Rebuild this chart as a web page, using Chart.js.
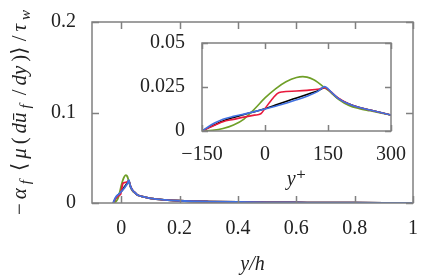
<!DOCTYPE html>
<html>
<head>
<meta charset="utf-8">
<script src="https://cdn.jsdelivr.net/npm/chart.js@4.4.1/dist/chart.umd.min.js"></script>
<style>
  html, body { margin: 0; padding: 0; background: #fff; }
  #wrap { position: relative; width: 441px; height: 280px; }
  #main { position: absolute; left: 0; top: 0; }
  #inset { position: absolute; left: 110px; top: 30px; }
</style>
</head>
<body>
<div id="wrap">
  <canvas id="main" width="441" height="280"></canvas>
  <canvas id="inset" width="300" height="175"></canvas>
</div>
<script>
// near-wall profiles (x in wall units y+)
const RE_TAU = 5500;

const blackYp = [-150, -140, -120, -100, -75, -50, -25, 0, 25, 50, 75, 100, 125, 142, 150, 160, 175, 200, 225, 250, 275, 300];
const blackVal = [0, 0.0012, 0.0035, 0.0057, 0.0077, 0.0094, 0.0110, 0.0127, 0.0147, 0.0168, 0.0188, 0.0208, 0.0228, 0.0246, 0.0236, 0.0214, 0.0184, 0.0153, 0.0133, 0.0119, 0.0105, 0.0091];

const redYp = [-150, -130, -100, -75, -50, -25, -10, 0, 15, 30, 40, 75, 100, 130, 142, 155, 175, 200, 225, 250, 275, 300];
const redVal = [0, 0.0022, 0.0053, 0.0066, 0.0079, 0.0090, 0.0098, 0.0128, 0.0175, 0.0214, 0.0222, 0.0227, 0.0231, 0.0239, 0.0246, 0.0226, 0.0186, 0.0153, 0.0133, 0.0119, 0.0105, 0.0091];

const greenYp = [-150, -125, -100, -75, -50, -25, 0, 25, 50, 75, 90, 100, 115, 125, 140, 150, 175, 200, 225, 250, 275, 300];
const greenVal = [0, 0.0004, 0.0014, 0.0034, 0.0068, 0.0125, 0.0188, 0.0240, 0.0280, 0.0304, 0.0309, 0.0306, 0.0293, 0.0278, 0.0250, 0.0232, 0.0180, 0.0145, 0.0127, 0.0115, 0.0103, 0.0091];

const blueYp = [-150, -140, -120, -100, -75, -50, -25, 0, 25, 50, 75, 100, 125, 142, 150, 160, 175, 200, 225, 250, 275, 300];
const blueVal = [0, 0.0016, 0.0045, 0.0067, 0.0083, 0.0096, 0.0110, 0.0125, 0.0141, 0.0158, 0.0177, 0.0198, 0.0224, 0.0252, 0.0240, 0.0216, 0.0184, 0.0153, 0.0133, 0.0119, 0.0105, 0.0091];

// outer part of the channel (x in y/h), same for all runs
const tailYh = [0.06, 0.07, 0.1, 0.15, 0.2, 0.3, 0.4, 0.5, 0.6, 0.7, 0.8, 0.9, 1.0];
const tailVal = [0.0083, 0.0072, 0.0051, 0.0034, 0.0025, 0.0016, 0.0011, 0.0008, 0.0006, 0.0004, 0.0003, 0.0002, 0.0001];

// ticks
const mainXTicks = [0, 0.2, 0.4, 0.6, 0.8, 1];
const mainXLabels = ["0", "0.2", "0.4", "0.6", "0.8", "1"];
const mainYTicks = [0, 0.1, 0.2];
const mainYLabels = ["0", "0.1", "0.2"];
const insetXTicks = [-150, 0, 150, 300];
const insetXLabels = ["\u2212150", "0", "150", "300"];
const insetYTicks = [0, 0.025, 0.05];
const insetYLabels = ["0", "0.025", "0.05"];

const colors = { black: "#000000", red: "#e8193c", green: "#6f9f27", blue: "#4070e0" };

const FAMILY = "Liberation Serif, DejaVu Serif, serif";
Chart.defaults.font.family = FAMILY;
Chart.defaults.font.size = 20;
Chart.defaults.color = "#222";

const pts = (xs, ys, scale = 1) => xs.map((x, i) => ({ x: x / scale, y: ys[i] }));

// first dataset is drawn on top in Chart.js, so blue goes first
const series = [
  { name: "blue", xs: blueYp, ys: blueVal },
  { name: "red", xs: redYp, ys: redVal },
  { name: "green", xs: greenYp, ys: greenVal },
  { name: "black", xs: blackYp, ys: blackVal },
];

// frame with inward ticks on all four sides
const frameTicks = (len) => ({
  id: "frameTicks",
  afterDatasetsDraw(chart) {
    const { ctx, chartArea: a, scales: { x, y } } = chart;
    ctx.save();
    ctx.strokeStyle = "#808080";
    ctx.lineWidth = 1.5;
    ctx.beginPath();
    x.ticks.forEach((t) => {
      const px = Math.round(x.getPixelForValue(t.value)) + 0.5;
      ctx.moveTo(px, a.bottom); ctx.lineTo(px, a.bottom - len);
      ctx.moveTo(px, a.top); ctx.lineTo(px, a.top + len);
    });
    y.ticks.forEach((t) => {
      const py = Math.round(y.getPixelForValue(t.value)) + 0.5;
      ctx.moveTo(a.left, py); ctx.lineTo(a.left + len, py);
      ctx.moveTo(a.right, py); ctx.lineTo(a.right - len, py);
    });
    ctx.stroke();
    ctx.strokeRect(a.left, a.top, a.right - a.left, a.bottom - a.top);
    ctx.restore();
  },
});

// rotated y label with subscripts, spread out to the reference length
const yTitleParts = [
  { t: "\u2212", it: false }, { t: "\u03b1", it: true }, { t: "f", it: true, sub: true },
  { t: " \u27e8", it: false }, { t: "\u03bc", it: true }, { t: "(", it: false },
  { t: "d\u016b", it: true }, { t: "f", it: true, sub: true }, { t: " /", it: false },
  { t: "dy", it: true }, { t: ")\u27e9 /", it: false }, { t: "\u03c4", it: true },
  { t: "w", it: true, sub: true },
];
const yTitle = {
  id: "yTitle",
  afterDraw(chart) {
    const { ctx, chartArea: a } = chart;
    const size = 21;
    const fontOf = (p) => (p.it ? "italic " : "") + (p.sub ? 15 : size) + "px " + FAMILY;
    ctx.save();
    const widths = yTitleParts.map((p) => { ctx.font = fontOf(p); return ctx.measureText(p.t).width; });
    const natural = widths.reduce((s, w) => s + w, 0);
    const gap = Math.max(0, (205 - natural) / (yTitleParts.length - 1));
    const total = natural + gap * (yTitleParts.length - 1);
    ctx.translate(20, (a.top + a.bottom) / 2);
    ctx.rotate(-Math.PI / 2);
    ctx.fillStyle = "#222";
    ctx.textBaseline = "middle";
    let x = -total / 2;
    yTitleParts.forEach((p, i) => {
      ctx.font = fontOf(p);
      ctx.fillText(p.t, x, p.sub ? 6 : 0);
      x += widths[i] + gap;
    });
    ctx.restore();
  },
};

const lineSet = (s, scale, tail, width) => ({
  label: s.name,
  data: tail ? pts(s.xs, s.ys, scale).concat(pts(tailYh, tailVal)) : pts(s.xs, s.ys),
  borderColor: colors[s.name],
  borderWidth: width,
  pointRadius: 0,
  fill: false,
  cubicInterpolationMode: "monotone",
});

const axis = (min, max, ticks, labels, size, pad, extra = {}) => ({
  type: "linear",
  min, max,
  afterBuildTicks: (sc) => { sc.ticks = ticks.map((v) => ({ value: v })); },
  afterFit: (sc) => {
    if (sc.isHorizontal()) sc.height = size; else sc.width = size;
    // keep label overhang from pushing the plot area around
    sc.paddingTop = sc.paddingBottom = sc.paddingLeft = sc.paddingRight = 0;
  },
  grid: { display: false, drawTicks: false },
  border: { display: false },
  ticks: { padding: pad, callback: (v) => labels[ticks.indexOf(v)] ?? "" },
  ...extra,
});

new Chart(document.getElementById("main"), {
  type: "line",
  data: { datasets: series.map((s) => lineSet(s, RE_TAU, true, 1.8)) },
  options: {
    responsive: false, animation: false, devicePixelRatio: 1,
    layout: { padding: { top: 22, right: 28, left: 0, bottom: 0 } },
    plugins: { legend: { display: false }, tooltip: { enabled: false } },
    scales: {
      x: axis(-0.1, 1, mainXTicks, mainXLabels, 77, 14, {
        title: { display: true, text: "y/h", font: { style: "italic", size: 20 }, padding: { top: 0, bottom: 3 } },
      }),
      y: axis(0, 0.2, mainYTicks, mainYLabels, 92, 16),
    },
  },
  plugins: [frameTicks(7), yTitle],
});

new Chart(document.getElementById("inset"), {
  type: "line",
  data: { datasets: series.map((s) => lineSet(s, 1, false, 1.6)) },
  options: {
    responsive: false, animation: false, devicePixelRatio: 1,
    layout: { padding: { top: 13, right: 19, left: 0, bottom: 0 } },
    plugins: { legend: { display: false }, tooltip: { enabled: false } },
    scales: {
      x: axis(-150, 300, insetXTicks, insetXLabels, 74, 12, {
        title: { display: true, text: "y\u207a", font: { style: "italic", size: 20 }, padding: { top: 0, bottom: 13 } },
      }),
      y: axis(0, 0.05, insetYTicks, insetYLabels, 92, 17),
    },
  },
  plugins: [frameTicks(6)],
});
</script>
</body>
</html>
